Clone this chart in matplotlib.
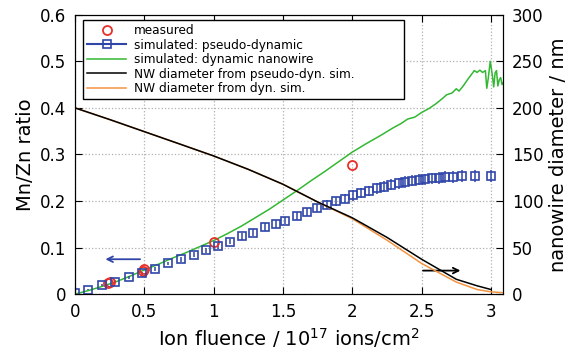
import matplotlib
matplotlib.use("Agg")
import matplotlib.pyplot as plt
from matplotlib.lines import Line2D

# measured Mn/Zn ratio
meas_x = [0.24, 0.25, 0.49, 0.50, 1.00, 2.00]
meas_y = [0.023, 0.026, 0.050, 0.053, 0.112, 0.277]

# simulated: pseudo-dynamic (squares with error bars)
sim_x = [0.0, 0.092, 0.192, 0.289, 0.39, 0.481, 0.577, 0.673, 0.765, 0.856,
         0.947, 1.034, 1.116, 1.203, 1.287, 1.371, 1.448, 1.515, 1.600, 1.676,
         1.748, 1.816, 1.883, 1.946, 2.004, 2.061, 2.123, 2.177, 2.229, 2.282,
         2.335, 2.383, 2.431, 2.48, 2.527, 2.576, 2.624, 2.672, 2.725, 2.792,
         2.888, 2.999]
sim_y = [0.002, 0.010, 0.020, 0.027, 0.036, 0.045, 0.054, 0.066, 0.075, 0.085,
         0.094, 0.104, 0.113, 0.124, 0.132, 0.144, 0.151, 0.158, 0.168, 0.177,
         0.185, 0.192, 0.199, 0.205, 0.212, 0.217, 0.221, 0.227, 0.231, 0.235,
         0.238, 0.241, 0.244, 0.246, 0.247, 0.249, 0.250, 0.252, 0.252, 0.254,
         0.254, 0.254]
sim_err = [0.001, 0.002, 0.002, 0.003, 0.003, 0.003, 0.004, 0.004, 0.005, 0.005,
           0.005, 0.006, 0.006, 0.007, 0.007, 0.008, 0.008, 0.008, 0.009, 0.009,
           0.009, 0.010, 0.010, 0.010, 0.011, 0.011, 0.011, 0.011, 0.012, 0.012,
           0.012, 0.012, 0.012, 0.012, 0.012, 0.012, 0.013, 0.013, 0.013, 0.013,
           0.013, 0.013]

# simulated: dynamic nanowire
dyn_x = [0.0, 0.1, 0.2, 0.3, 0.4, 0.5, 0.6, 0.7, 0.8, 0.9, 1.0, 1.1, 1.2, 1.3,
         1.4, 1.5, 1.6, 1.7, 1.8, 1.9, 2.0, 2.1, 2.2, 2.3, 2.35, 2.4, 2.45, 2.5,
         2.55, 2.6, 2.65, 2.68, 2.72, 2.75, 2.77, 2.8, 2.83, 2.86, 2.88, 2.9,
         2.92, 2.94, 2.96, 2.97, 2.98, 2.995, 3.01, 3.02, 3.03, 3.04, 3.05,
         3.06, 3.07, 3.08, 3.09]
dyn_y = [0.0, 0.008, 0.017, 0.027, 0.039, 0.052, 0.064, 0.077, 0.089, 0.102,
         0.115, 0.130, 0.146, 0.164, 0.182, 0.202, 0.222, 0.243, 0.263, 0.284,
         0.305, 0.323, 0.340, 0.358, 0.366, 0.376, 0.380, 0.390, 0.398, 0.408,
         0.420, 0.428, 0.432, 0.441, 0.436, 0.447, 0.460, 0.472, 0.480, 0.476,
         0.481, 0.476, 0.480, 0.442, 0.462, 0.500, 0.470, 0.445, 0.475, 0.480,
         0.447, 0.460, 0.465, 0.450, 0.455]

# NW diameter (nm)
dia_ps_x = [0.0, 0.25, 0.5, 0.75, 1.0, 1.25, 1.5, 1.75, 2.0, 2.25, 2.5, 2.75,
            2.9, 3.0]
dia_ps_y = [200, 187.5, 174.5, 161.5, 148.4, 134, 118, 99, 82, 61, 37.5, 16,
            9, 5]
dia_dyn_x = [0.0, 0.25, 0.5, 0.75, 1.0, 1.25, 1.5, 1.75, 2.0, 2.25, 2.5, 2.75,
             2.9, 3.0, 3.1]
dia_dyn_y = [200, 187.5, 174.5, 161.5, 148.4, 134, 118, 99, 81, 58, 33, 13,
             5, 2.5, 1.5]

blue = "#3045a8"
red = "#e8302a"
green = "#33b833"
orange = "#f39340"

fig = plt.figure(figsize=(5.76, 3.54), dpi=100)
ax = fig.add_axes([0.130, 0.169, 0.744, 0.7895])
ax2 = ax.twinx()

ax.grid(True, linestyle=":", color="#b0b0b0", linewidth=0.9)
ax.set_axisbelow(True)

ax.plot(dyn_x, dyn_y, color=green, lw=1.1)
ax.errorbar(sim_x, sim_y, yerr=sim_err, fmt="s", mfc="none", mec=blue,
            ecolor=blue, ms=5.2, mew=1.2, elinewidth=1.1, capsize=0)
ax.plot(meas_x, meas_y, "o", mfc="none", mec=red, ms=6.5, mew=1.3)

ax2.plot(dia_dyn_x, dia_dyn_y, color=orange, lw=1.1)
ax2.plot(dia_ps_x, dia_ps_y, color="black", lw=1.1)

ax.annotate("", xy=(0.2, 0.075), xytext=(0.49, 0.075),
            arrowprops=dict(arrowstyle="->", color=blue, lw=1.3))
ax.annotate("", xy=(2.8, 0.0506), xytext=(2.49, 0.0506),
            arrowprops=dict(arrowstyle="->", color="black", lw=1.3))

ax.set_xlim(0, 3.09)
ax.set_ylim(0, 0.6)
ax2.set_ylim(0, 300)
ax.set_xticks([0, 0.5, 1, 1.5, 2, 2.5, 3])
ax.set_xticklabels(["0", "0.5", "1", "1.5", "2", "2.5", "3"])
ax.set_yticks([0, 0.1, 0.2, 0.3, 0.4, 0.5, 0.6])
ax.set_yticklabels(["0", "0.1", "0.2", "0.3", "0.4", "0.5", "0.6"])
ax2.set_yticks([0, 50, 100, 150, 200, 250, 300])

ax.tick_params(direction="in", top=True, labelsize=12, length=5, pad=6)
ax2.tick_params(direction="in", labelsize=12, length=5, pad=6)

ax.set_xlabel("Ion fluence / 10$^{17}$ ions/cm$^2$", fontsize=14)
ax.set_ylabel("Mn/Zn ratio", fontsize=14)
ax2.set_ylabel("nanowire diameter / nm", fontsize=14)

handles = [
    Line2D([], [], ls="none", marker="o", mfc="none", mec=red, ms=6.5, mew=1.3),
    Line2D([], [], color=blue, marker="s", mfc="none", mec=blue, ms=5.2, mew=1.2),
    Line2D([], [], color=green, lw=1.1),
    Line2D([], [], color="black", lw=1.1),
    Line2D([], [], color=orange, lw=1.1),
]
labels = ["measured", "simulated: pseudo-dynamic", "simulated: dynamic nanowire",
          "NW diameter from pseudo-dyn. sim.", "NW diameter from dyn. sim."]
leg = ax2.legend(handles, labels, loc="upper left",
                 bbox_to_anchor=(0.0194, 0, 0.7495, 0.981), mode="expand",
                 fontsize=8.7, fancybox=False, framealpha=1, edgecolor="black",
                 handlelength=3.2, labelspacing=0.12, borderpad=0.35,
                 handletextpad=0.66, borderaxespad=0)
leg.get_frame().set_linewidth(1.0)

fig.savefig("out.png", dpi=100)
